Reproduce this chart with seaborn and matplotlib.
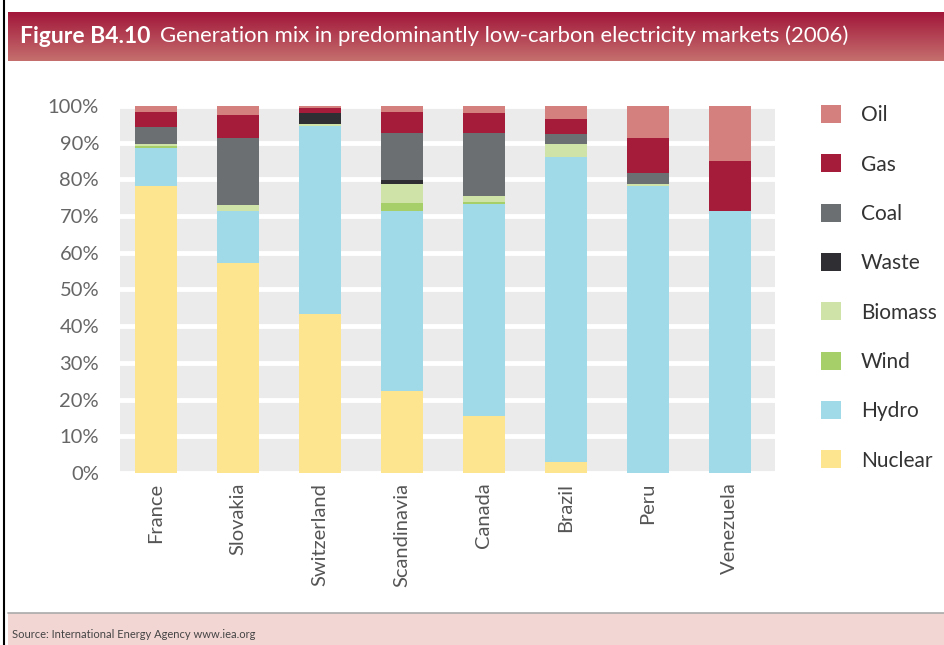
import numpy as np
import pandas as pd
import seaborn as sns
import matplotlib.pyplot as plt
from matplotlib.patches import Patch, Rectangle
from matplotlib.lines import Line2D
from matplotlib.colors import LinearSegmentedColormap

# Data (% share of generation, 2006)
countries = ["France", "Slovakia", "Switzerland", "Scandinavia", "Canada", "Brazil", "Peru", "Venezuela"]
nuclear = [78.1, 57.3, 43.2, 22.3, 15.5, 2.9, 0.0, 0.0]
hydro = [10.5, 14.1, 51.3, 49.1, 57.9, 83.1, 78.2, 71.3]
wind = [0.6, 0.0, 0.0, 2.1, 0.5, 0.0, 0.0, 0.0]
biomass = [0.4, 1.6, 0.5, 5.2, 1.7, 3.6, 0.5, 0.0]
waste = [0.0, 0.0, 3.0, 1.1, 0.0, 0.0, 0.0, 0.0]
coal = [4.8, 18.2, 0.0, 12.9, 17.1, 2.7, 3.0, 0.0]
gas = [4.0, 6.3, 1.5, 5.7, 5.3, 4.2, 9.5, 13.7]
oil = [1.6, 2.5, 0.5, 1.6, 2.0, 3.5, 8.8, 15.0]

fuels = ["Nuclear", "Hydro", "Wind", "Biomass", "Waste", "Coal", "Gas", "Oil"]
colors = ["#fde48f", "#a0d9e8", "#a6cf6a", "#cfe3a9", "#2e2e33", "#6b6f72", "#a51c3a", "#d4807e"]

df = pd.DataFrame({"Nuclear": nuclear, "Hydro": hydro, "Wind": wind, "Biomass": biomass,
                   "Waste": waste, "Coal": coal, "Gas": gas, "Oil": oil}, index=countries)
cum = df.cumsum(axis=1)
cum = cum.div(cum["Oil"], axis=0) * 100

sns.set_style("white")
plt.rcParams['font.family'] = ['Lato', 'DejaVu Sans']

fig = plt.figure(figsize=(9.44, 6.45), dpi=100)
ax = fig.add_axes([0.127, 0.2667, 0.694, 0.569])
ax.set_facecolor("#ebebeb")

# stacked bars: draw cumulative totals from top layer down
for fuel, col in zip(fuels[::-1], colors[::-1]):
    sns.barplot(x=countries, y=cum[fuel].values, color=col, saturation=1,
                width=0.52, ax=ax, edgecolor="none", zorder=3)

ax.set_ylim(0, 100)
ax.set_xlim(-0.44, 7.55)
ax.set_yticks(np.arange(0, 101, 10))
ax.set_yticklabels([f"{v}%" for v in range(0, 101, 10)], fontsize=14.5, color="#666666")
ax.set_xticks(range(len(countries)))
ax.set_xticklabels(countries, rotation=90, fontsize=14.5, color="#555555")
ax.tick_params(axis="y", length=0, pad=15)
ax.tick_params(axis="x", length=0, pad=7)
ax.grid(axis="y", color="white", linewidth=3.5, zorder=1)
ax.set_axisbelow(True)
for s in ax.spines.values():
    s.set_visible(False)
ax.set_xlabel("")
ax.set_ylabel("")

# legend
handles = [Patch(facecolor=c, edgecolor="none", label=f) for f, c in zip(fuels[::-1], colors[::-1])]
fig.legend(handles=handles, loc="upper left", bbox_to_anchor=(0.850, 0.866), frameon=False,
           fontsize=15, labelspacing=1.40, handlelength=0.95, handleheight=0.95,
           handletextpad=0.95, labelcolor="#333333")

# title band with gradient
tax = fig.add_axes([0.008, 0.906, 0.992, 0.075])
grad = np.linspace(0, 1, 100).reshape(-1, 1)
cmap = LinearSegmentedColormap.from_list("band", ["#a2173a", "#c56f6e"])
tax.imshow(grad, aspect="auto", cmap=cmap, extent=[0, 1, 0, 1], origin="upper")
tax.set_axis_off()
fig.text(0.021, 0.944, "Figure B4.10", color="white", fontsize=16.5, fontweight="bold", va="center")
fig.text(0.169, 0.944, "Generation mix in predominantly low-carbon electricity markets (2006)",
         color="white", fontsize=15.9, va="center")

# source band
fig.patches.append(Rectangle((0.008, 0.0), 0.992, 0.05, transform=fig.transFigure,
                             facecolor="#f2d6d4", edgecolor="none"))
fig.lines.append(Line2D([0.008, 1], [0.05, 0.05], transform=fig.transFigure, color="#aaaaaa", lw=1.2))
fig.text(0.013, 0.017, "Source: International Energy Agency www.iea.org", fontsize=8,
         color="#444444", va="center")

# left border line
fig.lines.append(Line2D([0.004, 0.004], [0, 1], transform=fig.transFigure, color="black", lw=1.5))

fig.savefig("out.png", dpi=100)
